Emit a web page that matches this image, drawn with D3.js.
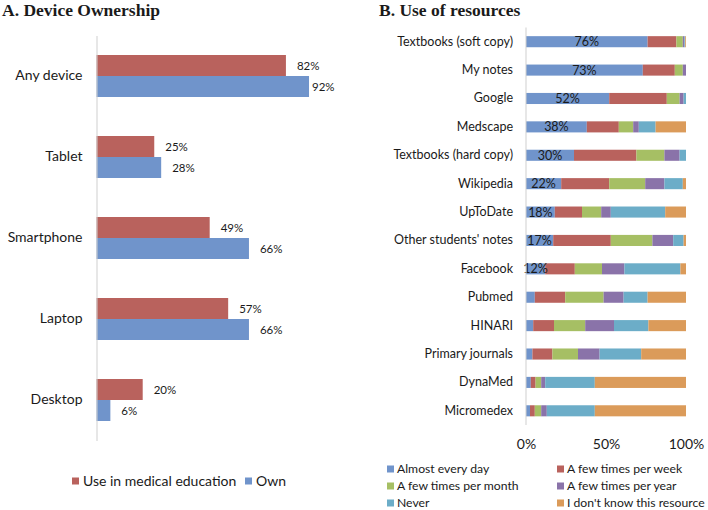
<!DOCTYPE html>
<html>
<head>
<meta charset="utf-8">
<script src="https://cdn.jsdelivr.net/npm/d3@7/dist/d3.min.js"></script>
<style>
  html, body { margin: 0; padding: 0; background: #fff; }
  svg { display: block; }
  text { font-family: Lato, "Liberation Sans", sans-serif; fill: #1a1a1a; }
  .title { font-family: "Liberation Serif", "DejaVu Serif", serif; font-weight: bold; font-size: 17.5px; }
</style>
</head>
<body>
<svg id="chart" width="708" height="510"></svg>
<script>
// ---- Panel A data ----
const deviceCategories = ["Any device", "Tablet", "Smartphone", "Laptop", "Desktop"];
const useInEducation = [82, 25, 49, 57, 20];
const ownDevice = [92, 28, 66, 66, 6];
const deviceSeries = ["Use in medical education", "Own"];

// ---- Panel B data ----
const resources = ["Textbooks (soft copy)", "My notes", "Google", "Medscape", "Textbooks (hard copy)",
  "Wikipedia", "UpToDate", "Other students' notes", "Facebook", "Pubmed", "HINARI",
  "Primary journals", "DynaMed", "Micromedex"];
const frequencyLevels = ["Almost every day", "A few times per week", "A few times per month",
  "A few times per year", "Never", "I don't know this resource"];
const almostEveryDay = [76, 73, 52, 38, 30, 22, 18, 17, 12, 5.5, 4.5, 4, 3, 2.5];
const fewTimesWeek   = [18, 20, 36, 20, 39, 30, 17, 36, 18.5, 19, 13, 12.5, 3, 3];
const fewTimesMonth  = [4, 5, 8, 9, 17.5, 22.5, 12, 26, 17, 24, 19.5, 16, 3.5, 4];
const fewTimesYear   = [1, 2, 2.5, 3.5, 9.5, 12, 6, 13, 14, 12.5, 18, 13.5, 2.5, 3.5];
const neverUsed      = [0.5, 0, 1.5, 10.5, 4, 11.5, 34, 6.5, 35, 15, 21.5, 26, 31, 30];
const dontKnow       = [0.5, 0, 0, 19, 0, 2, 13, 1.5, 3.5, 24, 23.5, 28, 57, 57];
const dailyLabels = ["76%", "73%", "52%", "38%", "30%", "22%", "18%", "17%", "12%", "", "", "", "", ""];
const percentTicks = [0, 50, 100];

const colors = {
  blue: "#7094CB", red: "#B9625D", green: "#A6BF64",
  purple: "#8A73A9", teal: "#6CADC8", orange: "#DB9B5A"
};
const axisGray = "#CFCFCF";

const svg = d3.select("#chart");

// ================= Panel A =================
svg.append("text").attr("class", "title").attr("x", 2).attr("y", 16).text("A. Device Ownership");

const gA = svg.append("g");
const xA = d3.scaleLinear().domain([0, 100]).range([96.5, 327.5]);
const yA = d3.scaleBand().domain(deviceCategories).range([35.5, 440.5]).padding(0);
const subA = d3.scaleBand().domain(deviceSeries).range([0, 42]);
const groupOffset = (yA.bandwidth() - 42) / 2;
const colorA = d3.scaleOrdinal().domain(deviceSeries).range([colors.red, colors.blue]);

const rowsA = deviceCategories.map((c, i) => ({ cat: c, vals: [
  { s: deviceSeries[0], v: useInEducation[i] },
  { s: deviceSeries[1], v: ownDevice[i] } ] }));

const grpA = gA.selectAll("g.grp").data(rowsA).join("g")
  .attr("transform", d => `translate(0,${yA(d.cat) + groupOffset})`);
grpA.selectAll("rect").data(d => d.vals).join("rect")
  .attr("x", xA(0)).attr("y", d => subA(d.s))
  .attr("width", d => xA(d.v) - xA(0)).attr("height", subA.bandwidth())
  .attr("fill", d => colorA(d.s));
grpA.selectAll("text.val").data(d => d.vals).join("text").attr("class", "val")
  .attr("x", d => Math.min(xA(d.v) + 11, 312))
  .attr("y", d => subA(d.s) + subA.bandwidth() / 2)
  .attr("dy", "0.35em").attr("font-size", 11.5).text(d => d.v + "%");

const axisA = gA.append("g").attr("transform", `translate(${xA(0)},0)`)
  .call(d3.axisLeft(yA).tickSize(0).tickSizeOuter(0).tickPadding(14));
axisA.select(".domain").attr("stroke", axisGray);
axisA.selectAll("text").attr("font-size", 14).attr("font-family", "Lato, sans-serif").attr("fill", "#1a1a1a");

// Legend A
const legA = svg.append("g").attr("transform", "translate(0,481)");
const legAItems = [{ s: deviceSeries[0], x: 72 }, { s: deviceSeries[1], x: 245 }];
legAItems.forEach(it => {
  legA.append("rect").attr("x", it.x).attr("y", -3.5).attr("width", 7).attr("height", 7).attr("fill", colorA(it.s));
  legA.append("text").attr("x", it.x + 11).attr("y", 0).attr("dy", "0.35em").attr("font-size", 14).text(it.s);
});

// ================= Panel B =================
svg.append("text").attr("class", "title").attr("x", 379).attr("y", 16).text("B. Use of resources");

const gB = svg.append("g");
const xB = d3.scaleLinear().domain([0, 100]).range([526, 686]);
const yB = d3.scaleBand().domain(resources).range([27.5, 425]).paddingInner(0.61).paddingOuter(0.305);
const seriesB = [almostEveryDay, fewTimesWeek, fewTimesMonth, fewTimesYear, neverUsed, dontKnow];
const colorB = d3.scaleOrdinal().domain(frequencyLevels)
  .range([colors.blue, colors.red, colors.green, colors.purple, colors.teal, colors.orange]);

const tableB = resources.map((r, i) => {
  const row = { resource: r };
  frequencyLevels.forEach((f, k) => row[f] = seriesB[k][i]);
  return row;
});
const stacked = d3.stack().keys(frequencyLevels)(tableB);

gB.selectAll("g.layer").data(stacked).join("g").attr("class", "layer")
  .attr("fill", d => colorB(d.key))
  .selectAll("rect").data(d => d).join("rect")
  .attr("x", d => xB(d[0])).attr("width", d => Math.max(0, xB(d[1]) - xB(d[0])))
  .attr("y", d => yB(d.data.resource)).attr("height", yB.bandwidth());

gB.selectAll("text.dlab").data(resources).join("text").attr("class", "dlab")
  .attr("x", (r, i) => (xB(0) + xB(almostEveryDay[i])) / 2)
  .attr("y", r => yB(r) + yB.bandwidth() / 2)
  .attr("dy", "0.36em").attr("text-anchor", "middle").attr("font-size", 12.5)
  .text((r, i) => dailyLabels[i]);

const axisBy = gB.append("g").attr("transform", `translate(${xB(0)},0)`)
  .call(d3.axisLeft(yB).tickSize(0).tickSizeOuter(0).tickPadding(13));
axisBy.select(".domain").attr("stroke", axisGray).attr("d", "M0,27.5V425");
axisBy.selectAll("text").attr("font-size", 12.5).attr("font-family", "Lato, sans-serif").attr("fill", "#1a1a1a");

const axisBx = gB.append("g").attr("transform", "translate(0,425)")
  .call(d3.axisBottom(xB).tickValues(percentTicks).tickFormat(d => d + "%").tickSize(0).tickPadding(14));
axisBx.select(".domain").remove();
axisBx.selectAll("text").attr("font-size", 14).attr("font-family", "Lato, sans-serif").attr("fill", "#1a1a1a");

// Legend B
const legB = svg.append("g");
frequencyLevels.forEach((f, k) => {
  const col = k % 2, row = Math.floor(k / 2);
  const lx = col === 0 ? 387 : 557, ly = 469 + row * 17;
  legB.append("rect").attr("x", lx).attr("y", ly - 3.5).attr("width", 7).attr("height", 7).attr("fill", colorB(f));
  legB.append("text").attr("x", lx + 10).attr("y", ly).attr("dy", "0.35em").attr("font-size", 12.2).text(f);
});
</script>
</body>
</html>
